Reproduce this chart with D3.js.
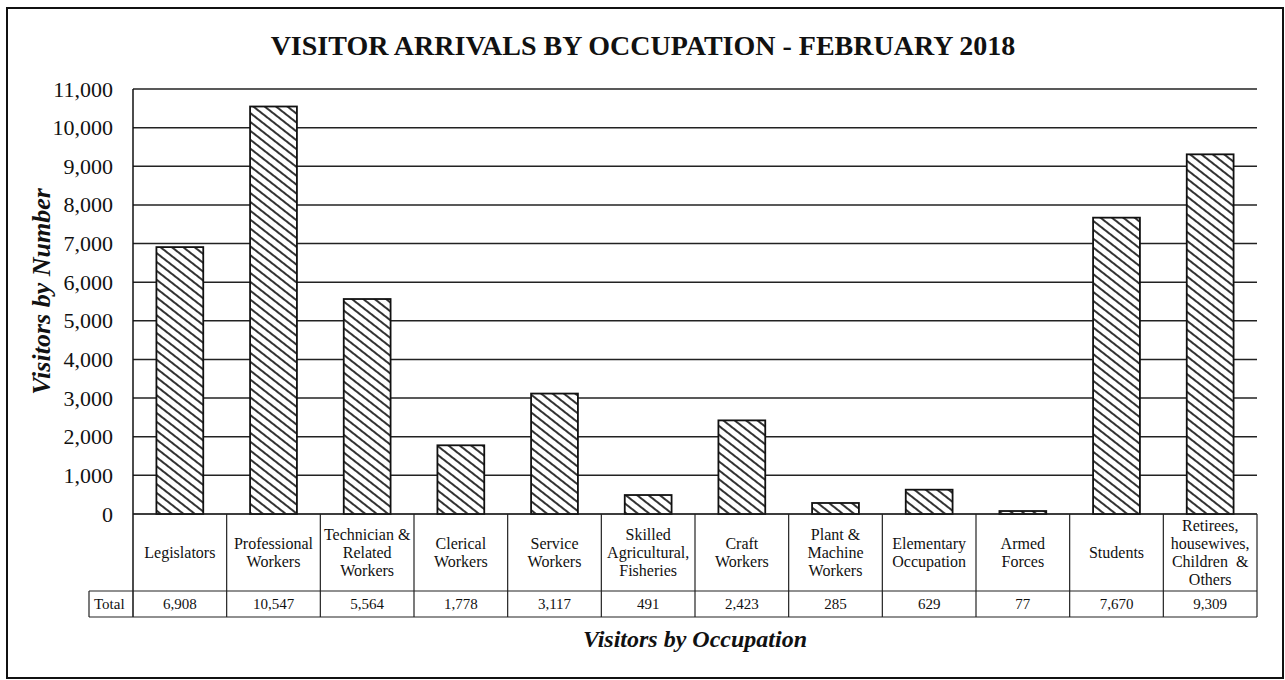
<html>
<meta charset="utf-8" />
<head>
<title>Visitor Arrivals by Occupation</title>
<style>
body { margin: 0; background: #fff; }
svg { display: block; }
svg text { font-family: "Liberation Serif", "Times New Roman", serif; fill: #111; }
</style>
<script src="https://d3js.org/d3.v7.min.js" charset="utf-8"></script>
</head>
<body>
<svg class="chart"></svg>
<script>
var chartWidth = 1285;
var chartHeight = 680;

/********
 * Data *
 ********/

var occupations = [
  ["Legislators"],
  ["Professional", "Workers"],
  ["Technician &", "Related", "Workers"],
  ["Clerical", "Workers"],
  ["Service", "Workers"],
  ["Skilled", "Agricultural,", "Fisheries"],
  ["Craft", "Workers"],
  ["Plant &", "Machine", "Workers"],
  ["Elementary", "Occupation"],
  ["Armed", "Forces"],
  ["Students"],
  ["Retirees,", "housewives,", "Children  &", "Others"]
];
var visitors = [6908, 10547, 5564, 1778, 3117, 491, 2423, 285, 629, 77, 7670, 9309];
var yTicks = [0, 1000, 2000, 3000, 4000, 5000, 6000, 7000, 8000, 9000, 10000, 11000];

var titleText = "VISITOR ARRIVALS BY OCCUPATION - FEBRUARY 2018";

/**********
 * Layout *
 **********/
var plotLeft = 133, plotRight = 1257, plotTop = 89, plotBottom = 514;
var rowBottom = 591, totalBottom = 617, totalLeft = 89;

var keys = occupations.map(function(d, i) { return i; });

var x = d3.scaleBand()
    .domain(keys)
    .range([plotLeft, plotRight])
    .paddingInner(0.5)
    .paddingOuter(0.25);

// cells of the table under the bars
var cell = d3.scaleBand()
    .domain(keys)
    .range([plotLeft, plotRight]);

var y = d3.scaleLinear()
    .domain([0, 11000])
    .range([plotBottom, plotTop]);

var fmt = d3.format(",");

var svg = d3.select(".chart")
    .attr("width", chartWidth)
    .attr("height", chartHeight);

// hatch fill
var pat = svg.append("defs").append("pattern")
    .attr("id", "hatch")
    .attr("patternUnits", "userSpaceOnUse")
    .attr("width", 7)
    .attr("height", 7)
    .attr("patternTransform", "rotate(-52)");
pat.append("rect")
    .attr("width", 7).attr("height", 7)
    .attr("fill", "#fff");
pat.append("line")
    .attr("x1", 2).attr("y1", 0)
    .attr("x2", 2).attr("y2", 7)
    .attr("stroke", "#333")
    .attr("stroke-width", 2);

// outer frame
svg.append("rect")
    .attr("x", 7).attr("y", 8)
    .attr("width", 1276).attr("height", 670)
    .attr("fill", "none")
    .attr("stroke", "#111")
    .attr("stroke-width", 2);

svg.append("text")
    .attr("x", 643)
    .attr("y", 55)
    .style("text-anchor", "middle")
    .style("font-weight", "bold")
    .style("font-size", "28px")
    .text(titleText);

/********
 * Axes *
 ********/

svg.append("g").selectAll("line")
    .data(yTicks)
  .enter().append("line")
    .attr("x1", plotLeft)
    .attr("x2", plotRight)
    .attr("y1", function(d) { return y(d); })
    .attr("y2", function(d) { return y(d); })
    .attr("stroke", "#222")
    .attr("stroke-width", 1.5);

var yAxis = d3.axisLeft(y)
    .tickValues(yTicks)
    .tickFormat(fmt)
    .tickSize(0)
    .tickPadding(20);

var yAxisGroup = svg.append("g")
    .attr("transform", "translate(" + plotLeft + ",0)")
    .call(yAxis);
yAxisGroup.select(".domain").remove();
yAxisGroup.selectAll("text")
    .style("font-size", "22px")
    .style("font-family", "'Liberation Serif', serif")
    .attr("fill", "#111");

svg.append("line")
    .attr("x1", plotLeft).attr("x2", plotLeft)
    .attr("y1", plotTop).attr("y2", totalBottom)
    .attr("stroke", "#111")
    .attr("stroke-width", 1.5);

svg.append("text")
    .attr("transform", "translate(50," + ((plotTop + plotBottom) / 2 - 10) + ") rotate(-90)")
    .style("text-anchor", "middle")
    .style("font-weight", "bold")
    .style("font-style", "italic")
    .style("font-size", "26px")
    .text("Visitors by Number");

/********
 * Bars *
 ********/

svg.append("g").selectAll("rect")
    .data(visitors)
  .enter().append("rect")
    .attr("x", function(d, i) { return x(i); })
    .attr("y", function(d) { return y(d); })
    .attr("width", x.bandwidth())
    .attr("height", function(d) { return y(0) - y(d); })
    .attr("fill", "url(#hatch)")
    .attr("stroke", "#111")
    .attr("stroke-width", 1.8);

/*********
 * Table *
 *********/

var table = svg.append("g")
    .attr("fill", "none")
    .attr("stroke", "#222")
    .attr("stroke-width", 1.2);

table.append("line")
    .attr("x1", plotLeft).attr("x2", plotRight)
    .attr("y1", plotBottom).attr("y2", plotBottom);
table.append("line")
    .attr("x1", totalLeft).attr("x2", plotRight)
    .attr("y1", rowBottom).attr("y2", rowBottom);
table.append("line")
    .attr("x1", totalLeft).attr("x2", plotRight)
    .attr("y1", totalBottom).attr("y2", totalBottom);
table.append("line")
    .attr("x1", totalLeft).attr("x2", totalLeft)
    .attr("y1", rowBottom).attr("y2", totalBottom);

table.selectAll(".sep")
    .data(keys)
  .enter().append("line")
    .attr("class", "sep")
    .attr("x1", function(d) { return cell(d) + cell.bandwidth(); })
    .attr("x2", function(d) { return cell(d) + cell.bandwidth(); })
    .attr("y1", plotBottom)
    .attr("y2", totalBottom);

var labels = svg.append("g").selectAll("text")
    .data(occupations)
  .enter().append("text")
    .style("text-anchor", "middle")
    .style("font-size", "16px")
    .attr("transform", function(d, i) {
      var cy = (plotBottom + rowBottom) / 2 - (d.length - 1) * 9 + 5;
      return "translate(" + (cell(i) + cell.bandwidth() / 2) + "," + cy + ")";
    });

labels.selectAll("tspan")
    .data(function(d) { return d; })
  .enter().append("tspan")
    .attr("x", 0)
    .attr("y", function(d, j) { return j * 18; })
    .style("white-space", "pre")
    .text(function(d) { return d; });

svg.append("text")
    .attr("x", totalLeft + 5)
    .attr("y", 609)
    .style("font-size", "15px")
    .text("Total");

svg.append("g").selectAll("text")
    .data(visitors)
  .enter().append("text")
    .attr("x", function(d, i) { return cell(i) + cell.bandwidth() / 2; })
    .attr("y", 609)
    .style("text-anchor", "middle")
    .style("font-size", "15px")
    .text(function(d) { return fmt(d); });

svg.append("text")
    .attr("x", (plotLeft + plotRight) / 2)
    .attr("y", 647)
    .style("text-anchor", "middle")
    .style("font-weight", "bold")
    .style("font-style", "italic")
    .style("font-size", "24px")
    .text("Visitors by Occupation");
</script>
</body>
</html>
